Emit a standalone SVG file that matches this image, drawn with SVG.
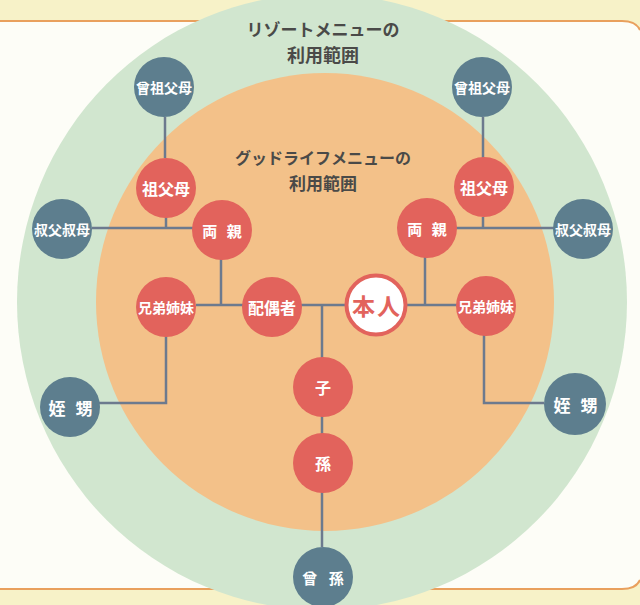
<svg xmlns="http://www.w3.org/2000/svg" width="640" height="605" viewBox="0 0 640 605">
<style>
.lbl{font-family:"Noto Sans CJK JP","Noto Sans CJK SC",sans-serif;font-weight:700;fill:#ffffff;text-anchor:middle;dominant-baseline:central}
.ttl{font-family:"Noto Sans CJK JP","Noto Sans CJK SC",sans-serif;font-weight:700;fill:#4a4a48;text-anchor:middle}
.red{fill:#e2635c}
.blue{fill:#5d7e8e}
.conn{fill:none;stroke:#6c7a8e;stroke-width:2.5}
</style>
<rect x="0" y="0" width="640" height="605" fill="#f7f2c8"/>
<path d="M0,21 H622 Q640,21 640,32 V578 Q640,589 622,589 H0 Z" fill="#fdfdf7"/>
<path d="M0,21 H622 Q636,21 640,30 M0,589 H622 Q636,589 640,580" fill="none" stroke="#e9a05d" stroke-width="2"/>
<ellipse cx="322" cy="302" rx="305" ry="308" fill="#d1e6cf"/>
<circle cx="325" cy="302" r="229" fill="#f3c189"/>
<g id="titles">
<text class="ttl" x="323" y="36" font-size="17">リゾートメニューの</text>
<text class="ttl" x="323" y="62" font-size="18">利用範囲</text>
<text class="ttl" x="323" y="164" font-size="16">グッドライフメニューの</text>
<text class="ttl" x="323" y="190" font-size="17">利用範囲</text>
</g>
<g id="connectors">
<line class="conn" x1="165" y1="117" x2="165" y2="158"/>
<line class="conn" x1="483" y1="117" x2="483" y2="158"/>
<line class="conn" x1="166" y1="217" x2="166" y2="228"/>
<line class="conn" x1="92" y1="228" x2="193" y2="228"/>
<line class="conn" x1="483" y1="217" x2="483" y2="228"/>
<line class="conn" x1="456" y1="228" x2="554" y2="228"/>
<line class="conn" x1="221" y1="259" x2="221" y2="305"/>
<line class="conn" x1="196" y1="305" x2="243" y2="305"/>
<line class="conn" x1="301" y1="305" x2="345" y2="305"/>
<line class="conn" x1="425" y1="257" x2="425" y2="305"/>
<line class="conn" x1="407" y1="305" x2="457" y2="305"/>
<line class="conn" x1="322" y1="305" x2="322" y2="547"/>
<polyline class="conn" points="166,336 166,403 99,403"/>
<polyline class="conn" points="484,335 484,403 544,403"/>
</g>
<g id="node-sosofubo-l"><circle class="blue" cx="164" cy="87" r="30"/><text class="lbl" x="164" y="87" font-size="14">曾祖父母</text></g>
<g id="node-sosofubo-r"><circle class="blue" cx="482" cy="87" r="30"/><text class="lbl" x="482" y="87" font-size="14">曾祖父母</text></g>
<g id="node-sofubo-l"><circle class="red" cx="166" cy="188" r="30"/><text class="lbl" x="166" y="188" font-size="16">祖父母</text></g>
<g id="node-sofubo-r"><circle class="red" cx="484" cy="187" r="30"/><text class="lbl" x="484" y="187" font-size="16">祖父母</text></g>
<g id="node-oji-l"><circle class="blue" cx="62" cy="229" r="30"/><text class="lbl" x="62" y="229" font-size="14">叔父叔母</text></g>
<g id="node-oji-r"><circle class="blue" cx="583" cy="229" r="30"/><text class="lbl" x="583" y="229" font-size="14">叔父叔母</text></g>
<g id="node-ryoshin-l"><circle class="red" cx="222" cy="230" r="30"/><text class="lbl" x="223.5" y="230" font-size="15" letter-spacing="3">両 親</text></g>
<g id="node-ryoshin-r"><circle class="red" cx="427" cy="228" r="30"/><text class="lbl" x="428.5" y="228" font-size="15" letter-spacing="3">両 親</text></g>
<g id="node-kyodai-l"><circle class="red" cx="166" cy="307" r="30"/><text class="lbl" x="166" y="307" font-size="14">兄弟姉妹</text></g>
<g id="node-kyodai-r"><circle class="red" cx="486" cy="306" r="30"/><text class="lbl" x="486" y="306" font-size="14">兄弟姉妹</text></g>
<g id="node-haigusha"><circle class="red" cx="272" cy="307" r="30"/><text class="lbl" x="272" y="307" font-size="16">配偶者</text></g>
<g id="node-honnin"><circle cx="376" cy="305" r="29.5" fill="#ffffff" stroke="#e2635c" stroke-width="4"/><text class="lbl" x="377" y="305" font-size="23" letter-spacing="2" style="fill:#e2635c">本人</text></g>
<g id="node-ko"><circle class="red" cx="323" cy="387" r="30"/><text class="lbl" x="323" y="387" font-size="16">子</text></g>
<g id="node-mago"><circle class="red" cx="323" cy="463" r="30"/><text class="lbl" x="323" y="463" font-size="16">孫</text></g>
<g id="node-himago"><circle class="blue" cx="323" cy="577" r="30"/><text class="lbl" x="325" y="577" font-size="15" letter-spacing="4">曾 孫</text></g>
<g id="node-oimei-l"><circle class="blue" cx="70" cy="407" r="30"/><text class="lbl" x="72" y="407" font-size="17" letter-spacing="3">姪 甥</text></g>
<g id="node-oimei-r"><circle class="blue" cx="575" cy="404" r="31"/><text class="lbl" x="577" y="404" font-size="17" letter-spacing="3">姪 甥</text></g>
</svg>
